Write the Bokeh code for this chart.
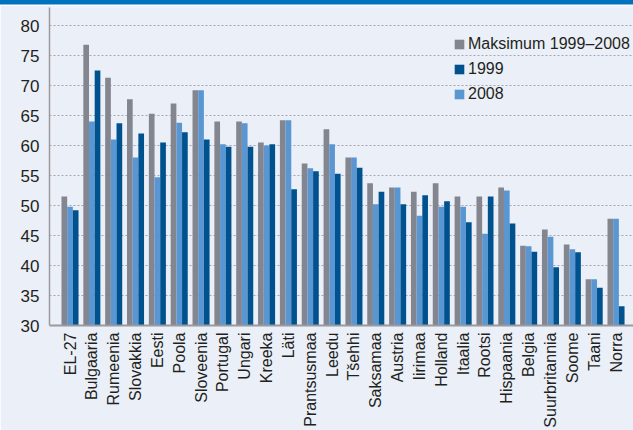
from bokeh.plotting import figure
from bokeh.models import (ColumnDataSource, FixedTicker, Legend, LegendItem, Div, Range1d)
from bokeh.layouts import column
from bokeh.embed import file_html
from bokeh.resources import INLINE
import math

categories = ["EL-27", "Bulgaaria", "Rumeenia", "Slovakkia", "Eesti", "Poola", "Sloveenia",
              "Portugal", "Ungari", "Kreeka", "Läti", "Prantsusmaa", "Leedu", "Tšehhi",
              "Saksamaa", "Austria", "Iirimaa", "Holland", "Itaalia", "Rootsi", "Hispaania",
              "Belgia", "Suurbritannia", "Soome", "Taani", "Norra"]
maksimum = [51.5, 76.8, 71.3, 67.7, 65.3, 67.0, 69.2, 64.0, 64.0, 60.5, 64.2, 57.0, 62.7, 58.0,
            53.7, 53.0, 52.3, 53.7, 51.5, 51.5, 53.0, 43.3, 46.0, 43.5, 37.7, 47.8]
y2008 = [49.8, 64.0, 61.0, 58.0, 54.7, 63.8, 69.2, 60.2, 63.7, 60.0, 64.2, 56.2, 60.2, 58.0,
         50.2, 53.0, 48.3, 49.8, 49.8, 45.3, 52.5, 43.2, 44.8, 42.7, 37.7, 47.8]
y1999 = [49.2, 72.5, 63.7, 62.0, 60.5, 62.2, 61.0, 59.8, 59.8, 60.2, 52.7, 55.7, 55.3, 56.3,
         52.3, 50.2, 51.7, 50.7, 47.2, 51.5, 47.0, 42.3, 39.7, 42.2, 36.3, 33.2]
y_ticks = [30, 35, 40, 45, 50, 55, 60, 65, 70, 75, 80]

BG = "#ebeff8"
GREY = "#83858f"
LIGHT = "#5a97d2"
DARK = "#00528f"
TEXT = "#231f20"
FONT = "Liberation Sans"

idx = list(range(len(categories)))
src = ColumnDataSource(dict(
    xg=[i - 0.26 for i in idx],
    xl=idx,
    xd=[i + 0.26 for i in idx],
    maks=maksimum, y08=y2008, y99=y1999,
))

p = figure(width=633, height=425, output_backend="svg", toolbar_location=None,
           x_range=Range1d(-0.939, 25.80), y_range=Range1d(30, 83),
           min_border_left=49, min_border_right=0, min_border_top=2, min_border_bottom=105)
p.background_fill_color = BG
p.border_fill_color = BG
p.outline_line_color = None

rg = p.vbar(x="xg", top="maks", bottom=0, width=0.26, source=src, fill_color=GREY, line_color=None)
rl = p.vbar(x="xl", top="y08", bottom=0, width=0.26, source=src, fill_color=LIGHT, line_color=None)
rd = p.vbar(x="xd", top="y99", bottom=0, width=0.26, source=src, fill_color=DARK, line_color=None)

p.xgrid.visible = False
p.ygrid.ticker = FixedTicker(ticks=y_ticks)
p.ygrid.grid_line_color = "#a4a6b2"
p.ygrid.grid_line_dash = "2 2"
p.ygrid.grid_line_width = 1

p.yaxis.ticker = FixedTicker(ticks=y_ticks)
p.yaxis.major_tick_line_color = None
p.yaxis.minor_tick_line_color = None
p.yaxis.major_tick_out = 0
p.yaxis.major_tick_in = 0
p.yaxis.axis_line_color = "#9a9a9e"
p.yaxis.axis_line_width = 1.5
p.yaxis.major_label_text_font = FONT
p.yaxis.major_label_text_font_size = "17px"
p.yaxis.major_label_text_color = TEXT
p.yaxis.major_label_standoff = 10

p.xaxis.ticker = FixedTicker(ticks=idx)
p.xaxis.major_label_overrides = {i: c for i, c in zip(idx, categories)}
p.xaxis.major_label_orientation = math.pi / 2
p.xaxis.major_tick_line_color = None
p.xaxis.minor_tick_line_color = None
p.xaxis.major_tick_out = 0
p.xaxis.major_tick_in = 0
p.xaxis.major_label_standoff = 7
p.xaxis.major_label_text_font = FONT
p.xaxis.major_label_text_font_size = "16px"
p.xaxis.major_label_text_color = TEXT
p.xaxis.axis_line_color = "#9a9a9e"
p.xaxis.axis_line_width = 2

legend = Legend(items=[LegendItem(label="Maksimum 1999–2008", renderers=[rg]),
                       LegendItem(label="1999", renderers=[rd]),
                       LegendItem(label="2008", renderers=[rl])],
                location=(404, 222), orientation="vertical",
                glyph_width=12, glyph_height=12, label_height=12, label_standoff=3,
                spacing=7, padding=0, margin=0,
                label_text_font=FONT, label_text_font_size="16px", label_text_color=TEXT,
                border_line_color=None, background_fill_alpha=0)
p.add_layout(legend)

top_bar = Div(text="", width=633, height=5, margin=0,
              styles={"background-color": "#0071bc", "border-bottom": "1px solid #7db6e4",
                      "box-sizing": "border-box"})

layout = column(top_bar, p, spacing=0)
open("out.html", "w").write(file_html(layout, INLINE))
